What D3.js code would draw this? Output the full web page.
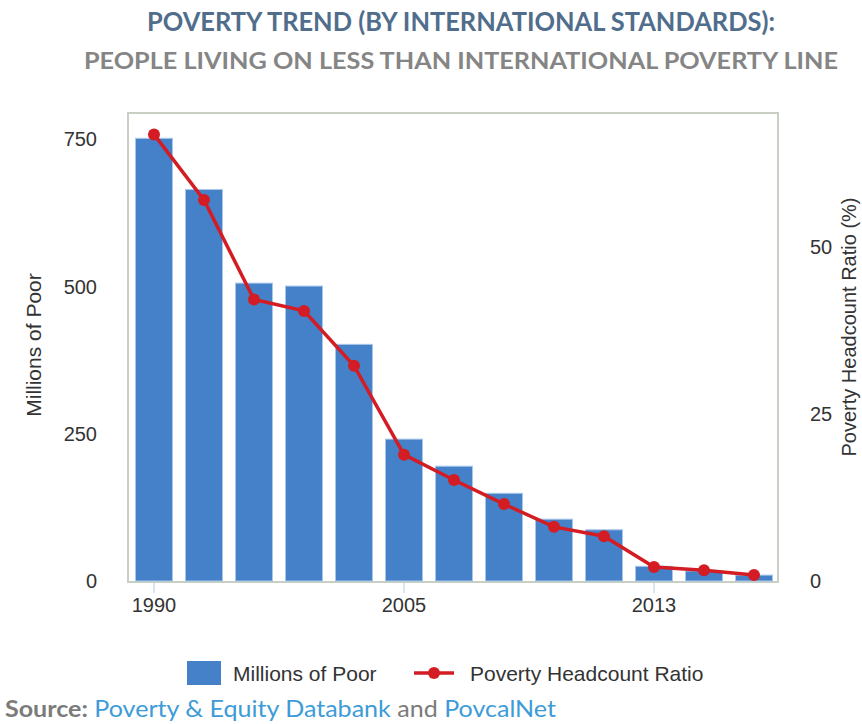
<!DOCTYPE html>
<html><head><meta charset="utf-8">
<script src="https://cdn.jsdelivr.net/npm/d3@7"></script>
<style>body{margin:0;background:#fff} svg{display:block}</style>
</head><body><svg id="c" width="862" height="724"></svg>
<script>
const years = [1990,1993,1996,1999,2002,2005,2008,2010,2011,2012,2013,2014,2015];
const poorMillions = [752,665,506,501,402,241,195,149,105,87,25,17,10];
const headcountPct = [66.8,57.0,42.1,40.4,32.2,18.9,15.1,11.5,8.1,6.7,2.1,1.6,0.9];
const leftTicks = [0,250,500,750];
const rightTicks = [0,25,50];
const xTickYears = [1990,2005,2013];
const titleLine1 = "POVERTY TREND (BY INTERNATIONAL STANDARDS):";
const titleLine2 = "PEOPLE LIVING ON LESS THAN INTERNATIONAL POVERTY LINE";
const leftTitle = "Millions of Poor";
const rightTitle = "Poverty Headcount Ratio (%)";
const legendBar = "Millions of Poor";
const legendLine = "Poverty Headcount Ratio";

const svg = d3.select("#c");
const F = "'Liberation Sans', Arial, sans-serif";
const TF = "Lato, 'Open Sans', sans-serif";

// titles
svg.append("text").attr("x",147).attr("y",31).attr("textLength",628).attr("lengthAdjust","spacingAndGlyphs")
  .attr("font-family",TF).attr("font-weight","bold").attr("font-size",26).attr("fill","#506e8c").text(titleLine1);
svg.append("text").attr("x",84).attr("y",69).attr("textLength",754).attr("lengthAdjust","spacingAndGlyphs")
  .attr("font-family",TF).attr("font-weight","bold").attr("font-size",22).attr("fill","#858585").text(titleLine2);

const x = d3.scaleBand().domain(years).range([129,779]).paddingInner(0.26).paddingOuter(0.13);
const yL = d3.scaleLinear().domain([0,795]).range([581,113]);
const yR = d3.scaleLinear().domain([0,70]).range([581,113]);

// frame
svg.append("rect").attr("x",128).attr("y",113).attr("width",650).attr("height",469)
  .attr("fill","#fff").attr("stroke","#c9cfc3").attr("stroke-width",2);

// bars
svg.append("g").selectAll("rect").data(years).join("rect")
  .attr("x",d=>x(d)).attr("width",x.bandwidth())
  .attr("y",(d,i)=>yL(poorMillions[i])).attr("height",(d,i)=>yL(0)-yL(poorMillions[i]))
  .attr("fill","#4581c8").attr("stroke","#a9c7ea").attr("stroke-width",1);

// line
const pts = years.map((y,i)=>({year:y,v:headcountPct[i]}));
const line = d3.line().x(d=>x(d.year)+x.bandwidth()/2).y(d=>yR(d.v));
svg.append("path").datum(pts).attr("d",line).attr("fill","none").attr("stroke","#d31c23").attr("stroke-width",3.5);
svg.append("g").selectAll("circle").data(pts).join("circle")
  .attr("cx",d=>x(d.year)+x.bandwidth()/2).attr("cy",d=>yR(d.v)).attr("r",6).attr("fill","#d31c23");

// axes
function styleAxis(g){
  g.select(".domain").remove();
  g.selectAll("text").attr("font-family",F).attr("font-size",20).attr("fill","#333");
}
svg.append("g").attr("transform","translate(128,0)")
  .call(d3.axisLeft(yL).tickValues(leftTicks).tickSize(0).tickPadding(31)).call(styleAxis);
svg.append("g").attr("transform","translate(778,0)")
  .call(d3.axisRight(yR).tickValues(rightTicks).tickSize(0).tickPadding(32)).call(styleAxis);
const xa = svg.append("g").attr("transform","translate(0,582)")
  .call(d3.axisBottom(x).tickValues(xTickYears).tickSize(11).tickPadding(5)).call(styleAxis);
xa.selectAll(".tick line").attr("stroke","#b8cce4");

// axis titles
svg.append("text").attr("transform","translate(41,345) rotate(-90)").attr("text-anchor","middle")
  .attr("font-family",F).attr("font-size",21).attr("fill","#333").text(leftTitle);
svg.append("text").attr("transform","translate(856,327) rotate(-90)").attr("text-anchor","middle")
  .attr("font-family",F).attr("font-size",20).attr("fill","#333").text(rightTitle);

// legend
svg.append("rect").attr("x",187).attr("y",661).attr("width",34).attr("height",24).attr("fill","#4581c8");
svg.append("text").attr("x",233).attr("y",681).attr("font-family",F).attr("font-size",21).attr("fill","#333").text(legendBar);
svg.append("line").attr("x1",414).attr("x2",454).attr("y1",673).attr("y2",673).attr("stroke","#d31c23").attr("stroke-width",3.5);
svg.append("circle").attr("cx",434).attr("cy",673).attr("r",6).attr("fill","#d31c23");
svg.append("text").attr("x",470).attr("y",681).attr("font-family",F).attr("font-size",21).attr("fill","#333").text(legendLine);

// source
const src = svg.append("text").attr("x",5).attr("y",717).attr("textLength",551).attr("lengthAdjust","spacingAndGlyphs")
  .attr("font-family",TF).attr("font-size",23);
src.append("tspan").attr("font-weight","bold").attr("fill","#7b7b7b").text("Source:");
src.append("tspan").attr("fill","#3d9bd8").text(" Poverty & Equity Databank");
src.append("tspan").attr("fill","#7b7b7b").text(" and ");
src.append("tspan").attr("fill","#3d9bd8").text("PovcalNet");
</script></body></html>
